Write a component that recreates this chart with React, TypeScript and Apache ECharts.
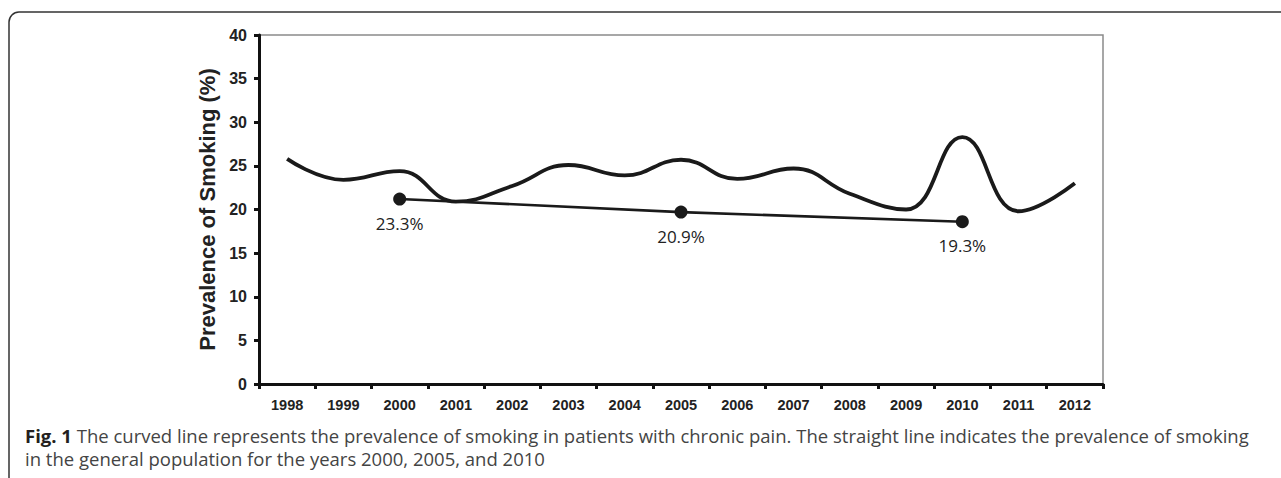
import React, { useEffect, useRef } from "react";
import * as echarts from "echarts";

const years = ["1998", "1999", "2000", "2001", "2002", "2003", "2004", "2005", "2006", "2007", "2008", "2009", "2010", "2011", "2012"];
const chronicPain = [25.8, 23.4, 24.4, 20.9, 22.7, 25.1, 23.9, 25.7, 23.5, 24.7, 21.8, 20.0, 28.3, 19.8, 23.0];
const generalYears = ["2000", "2005", "2010"];
const generalValues = [21.2, 19.7, 18.6];
const generalLabels = ["23.3%", "20.9%", "19.3%"];
const yMin = 0;
const yMax = 40;
const yStep = 5;
const yAxisTitle = "Prevalence of Smoking (%)";
const captionBold = "Fig. 1";
const captionLine1 = " The curved line represents the prevalence of smoking in patients with chronic pain. The straight line indicates the prevalence of smoking";
const captionLine2 = "in the general population for the years 2000, 2005, and 2010";

export default function App() {
  const ref = useRef<HTMLDivElement>(null);
  useEffect(() => {
    if (!ref.current) return;
    const chart = echarts.init(ref.current, undefined, { renderer: "svg" });
    const axisFont = "Liberation Sans, Arial, sans-serif";
    const capFont = "'Open Sans', 'Noto Sans', sans-serif";
    chart.setOption({
      animation: false,
      backgroundColor: "#ffffff",
      grid: {
        left: 259,
        top: 35,
        right: 178,
        bottom: 94,
        show: true,
        borderColor: "#8a8a8a",
        borderWidth: 1.5,
        containLabel: false,
      },
      xAxis: {
        type: "category",
        data: years,
        boundaryGap: true,
        axisLine: { show: true, lineStyle: { color: "#111", width: 3 } },
        axisTick: { show: true, length: 5, lineStyle: { color: "#111", width: 3 } },
        axisLabel: {
          fontFamily: axisFont,
          fontWeight: "bold",
          fontSize: 14.5,
          color: "#222",
          margin: 13,
        },
        splitLine: { show: false },
      },
      yAxis: {
        type: "value",
        min: yMin,
        max: yMax,
        interval: yStep,
        name: yAxisTitle,
        nameLocation: "middle",
        nameRotate: 90,
        nameGap: 36,
        nameTextStyle: {
          fontFamily: axisFont,
          fontWeight: "bold",
          fontSize: 22,
          color: "#222",
        },
        axisLine: { show: true, lineStyle: { color: "#111", width: 3 } },
        axisTick: { show: true, length: 5, lineStyle: { color: "#111", width: 3 } },
        axisLabel: {
          fontFamily: axisFont,
          fontWeight: "bold",
          fontSize: 16,
          color: "#222",
          margin: 12,
        },
        splitLine: { show: false },
      },
      series: [
        {
          type: "line",
          data: chronicPain,
          smooth: 0.45,
          showSymbol: false,
          symbol: "none",
          lineStyle: { color: "#1a1a1a", width: 3.8 },
          z: 2,
        },
        {
          type: "line",
          data: generalYears.map((y, i) => [y, generalValues[i]]),
          symbol: "circle",
          symbolSize: 13,
          itemStyle: { color: "#1a1a1a" },
          lineStyle: { color: "#1a1a1a", width: 2.6 },
          label: {
            show: true,
            position: "bottom",
            distance: 9,
            formatter: (p: any) => generalLabels[p.dataIndex],
            fontFamily: capFont,
            fontSize: 17,
            color: "#222",
          },
          z: 3,
        },
      ],
      graphic: [
        {
          type: "rect",
          shape: { x: 9, y: 12, width: 1300, height: 490, r: [10, 0, 0, 0] },
          style: { fill: "none", stroke: "#333", lineWidth: 1.5 },
          silent: true,
        },
        {
          type: "text",
          x: 25,
          y: 435,
          style: {
            text: "{b|" + captionBold + "}" + captionLine1,
            font: "18.5px " + capFont,
            fill: "#444",
            verticalAlign: "middle",
            rich: {
              b: {
                fontFamily: capFont,
                fontWeight: "bold",
                fontSize: 18.5,
                fill: "#231f20",
                color: "#231f20",
              },
            },
          },
        },
        {
          type: "text",
          x: 25,
          y: 458,
          style: {
            text: captionLine2,
            font: "18.5px " + capFont,
            fill: "#444",
            verticalAlign: "middle",
          },
        },
      ],
    });
    return () => chart.dispose();
  }, []);
  return (
    <div
      ref={ref}
      style={{ position: "absolute", left: 0, top: 0, width: 1281, height: 478 }}
    />
  );
}
